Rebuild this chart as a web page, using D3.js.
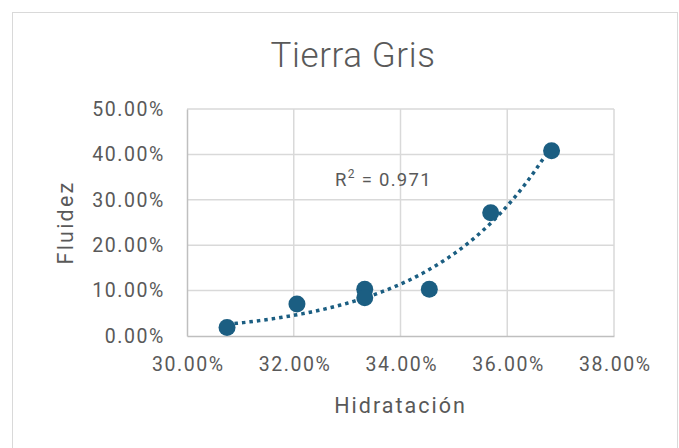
<!DOCTYPE html>
<html>
<head>
<meta charset="utf-8">
<script src="https://cdn.jsdelivr.net/npm/d3@7"></script>
<style>
  html, body { margin: 0; padding: 0; background: #fff; }
  svg { display: block; }
  text { font-family: Roboto, "Open Sans", sans-serif; fill: #595959; }
</style>
</head>
<body>
<script>
// Hidratación (x) and Fluidez (y) per sample
const hidratacion = [0.3075, 0.3206, 0.3333, 0.3333, 0.3454, 0.3569, 0.3683];
const fluidez     = [0.0185, 0.0706, 0.1030, 0.0840, 0.1030, 0.2715, 0.4080];
const xTicks = [0.30, 0.32, 0.34, 0.36, 0.38];
const yTicks = [0, 0.10, 0.20, 0.30, 0.40, 0.50];
const chartTitle = "Tierra Gris";
const xTitle = "Hidratación";
const yTitle = "Fluidez";
const r2Label = "0.971";

const W = 679, H = 448;
const margin = { left: 187, right: 65, top: 109, bottom: 112 };
const color = "#1b5e82";
const gridColor = "#d9d9d9";

const svg = d3.select("body").append("svg").attr("width", W).attr("height", H);

// chart area frame
svg.append("rect")
  .attr("x", 12.5).attr("y", 12.5)
  .attr("width", 665).attr("height", 460)
  .attr("fill", "#fff").attr("stroke", "#d9d9d9").attr("stroke-width", 1);

const x = d3.scaleLinear().domain([0.30, 0.38]).range([margin.left, W - margin.right]);
const y = d3.scaleLinear().domain([0, 0.50]).range([H - margin.bottom, margin.top]);

const pct = d3.format(".2%");

// gridlines
svg.append("g").selectAll("line").data(xTicks.slice(1)).join("line")
  .attr("x1", d => x(d)).attr("x2", d => x(d))
  .attr("y1", y(0.5)).attr("y2", y(0))
  .attr("stroke", gridColor).attr("stroke-width", 1.5);
svg.append("g").selectAll("line").data(yTicks.slice(1)).join("line")
  .attr("x1", x(0.30)).attr("x2", x(0.38))
  .attr("y1", d => y(d)).attr("y2", d => y(d))
  .attr("stroke", gridColor).attr("stroke-width", 1.5);

// axes
const xAxis = svg.append("g")
  .attr("transform", `translate(0,${y(0)})`)
  .call(d3.axisBottom(x).tickValues(xTicks).tickFormat(pct).tickSize(0).tickPadding(21));
const yAxis = svg.append("g")
  .attr("transform", `translate(${x(0.30)},0)`)
  .call(d3.axisLeft(y).tickValues(yTicks).tickFormat(pct).tickSize(0).tickPadding(22));
[xAxis, yAxis].forEach(g => {
  g.select(".domain").attr("stroke", "#bfbfbf").attr("stroke-width", 1.5);
  g.selectAll("text")
    .style("font-family", "Roboto, sans-serif")
    .style("font-size", "19.5px")
    .style("letter-spacing", "1.6px")
    .attr("fill", "#595959");
});
xAxis.selectAll("text").attr("dx", "0.8px");

// exponential trendline y = a·e^(b·x), least squares on ln(y)
const ly = fluidez.map(Math.log);
const mx = d3.mean(hidratacion), my = d3.mean(ly);
const b = d3.sum(hidratacion, (v, i) => (v - mx) * (ly[i] - my)) /
          d3.sum(hidratacion, v => (v - mx) ** 2);
const lnA = my - b * mx;
const x0 = d3.min(hidratacion), x1 = d3.max(hidratacion);
const trend = d3.range(0, 101).map(i => {
  const xv = x0 + (x1 - x0) * i / 100;
  return [xv, Math.exp(lnA + b * xv)];
});
svg.append("path")
  .datum(trend)
  .attr("d", d3.line().x(d => x(d[0])).y(d => y(d[1])))
  .attr("fill", "none")
  .attr("stroke", color)
  .attr("stroke-width", 3.5)
  .attr("stroke-dasharray", "3.5 4");

// points
svg.append("g").selectAll("circle").data(hidratacion).join("circle")
  .attr("cx", d => x(d))
  .attr("cy", (d, i) => y(fluidez[i]))
  .attr("r", 8.5)
  .attr("fill", color);

// R² label
const r2 = svg.append("text")
  .attr("x", 335).attr("y", 186)
  .style("font-size", "18.5px")
  .style("letter-spacing", "1.3px");
r2.append("tspan").text("R");
r2.append("tspan").text("2").attr("dy", -8).style("font-size", "12px");
r2.append("tspan").text(" = " + r2Label).attr("dy", 8);

// titles
svg.append("text")
  .attr("x", 353).attr("y", 67)
  .attr("text-anchor", "middle")
  .style("font-size", "35px")
  .style("font-weight", 300)
  .style("letter-spacing", "0.6px")
  .text(chartTitle);
svg.append("text")
  .attr("x", x(0.34)).attr("y", 413)
  .attr("text-anchor", "middle")
  .style("font-size", "21.5px")
  .style("letter-spacing", "2px")
  .text(xTitle);
svg.append("text")
  .attr("transform", `translate(73,${(y(0) + y(0.5)) / 2}) rotate(-90)`)
  .attr("text-anchor", "middle")
  .style("font-size", "21.5px")
  .style("letter-spacing", "2.2px")
  .text(yTitle);
</script>
</body>
</html>
